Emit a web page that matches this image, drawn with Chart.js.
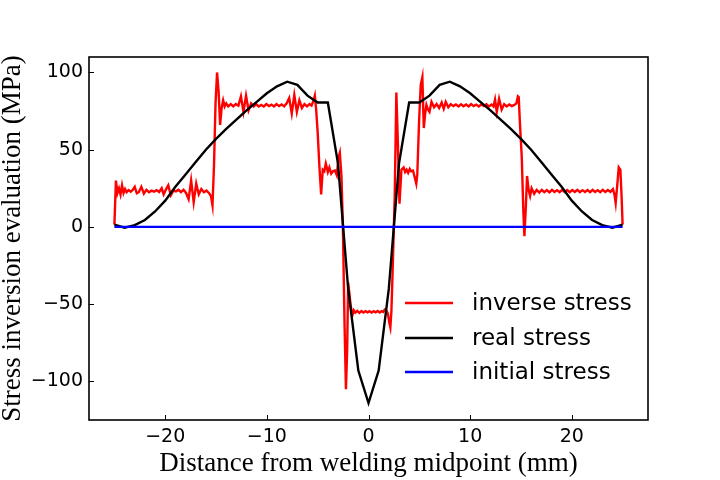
<!DOCTYPE html>
<html>
<head>
<meta charset="utf-8">
<script src="https://cdn.jsdelivr.net/npm/chart.js@4.4.0/dist/chart.umd.min.js"></script>
<style>
  body { margin: 0; background: #fff; }
</style>
</head>
<body>
<canvas id="stressChart" width="720" height="480"></canvas>
<script>
// tick labels
var xTicks = [-20, -10, 0, 10, 20];
var yTicks = [-100, -50, 0, 50, 100];

// real stress, one point per mm
var realX = [-25, -24, -23, -22, -21, -20, -19, -18, -17, -16,
  -15, -14, -13, -12, -11, -10, -9, -8, -7, -6,
  -5, -4, -3, -2, -1, 0, 1, 2, 3, 4,
  5, 6, 7, 8, 9, 10, 11, 12, 13, 14,
  15, 16, 17, 18, 19, 20, 21, 22, 23, 24, 25];
var realY = [1.5, -0.5, 1.2, 4.5, 10, 17, 26, 34, 42, 50,
  57, 63.5, 69.5, 75.5, 81, 86.5, 91, 94, 92, 85,
  80.5, 80.5, 41, -40, -93, -114, -93, -40, 41, 80.5,
  80.5, 85, 92, 94, 91, 86.5, 81, 75.5, 69.5, 63.5,
  57, 50, 42, 34, 26, 17, 10, 4.5, 1.2, -0.5, 1.5];

// initial stress
var initialX = [-25, 25];
var initialY = [0, 0];

// inverse stress
var inverseX = [-25.0, -24.85, -24.7, -24.55, -24.4, -24.25, -24.1, -23.95, -23.8, -23.6,
  -23.4, -23.2, -23.0, -22.8, -22.6, -22.35, -22.1, -21.85, -21.6, -21.35,
  -21.1, -20.85, -20.6, -20.35, -20.15, -19.95, -19.7, -19.45, -19.2, -18.95,
  -18.7, -18.45, -18.2, -17.95, -17.7, -17.45, -17.2, -16.95, -16.7, -16.45,
  -16.2, -15.95, -15.7, -15.5, -15.35, -15.2, -15.05, -14.9, -14.75, -14.6,
  -14.45, -14.3, -14.15, -14.0, -13.8, -13.55, -13.3, -13.05, -12.8, -12.55,
  -12.3, -12.05, -11.8, -11.55, -11.3, -11.05, -10.8, -10.55, -10.3, -10.05,
  -9.8, -9.55, -9.3, -9.05, -8.8, -8.55, -8.3, -8.05, -7.8, -7.55,
  -7.3, -7.05, -6.8, -6.55, -6.3, -6.05, -5.8, -5.6, -5.4, -5.28,
  -5.15, -5.0, -4.83, -4.66, -4.5, -4.35, -4.2, -4.0, -3.85, -3.67,
  -3.5, -3.3, -3.12, -2.95, -2.82, -2.66, -2.52, -2.36, -2.22, -2.1,
  -2.0, -1.9, -1.77, -1.6, -1.45, -1.3, -1.1, -0.9, -0.7, -0.5,
  -0.3, -0.1, 0.1, 0.3, 0.5, 0.7, 0.9, 1.1, 1.3, 1.45,
  1.6, 1.75, 1.9, 2.05, 2.15, 2.25, 2.35, 2.58, 2.74, 2.9,
  3.05, 3.24, 3.46, 3.6, 3.75, 3.9, 4.06, 4.2, 4.38, 4.55,
  4.7, 4.8, 4.98, 5.14, 5.3, 5.44, 5.57, 5.7, 5.85, 6.0,
  6.2, 6.45, 6.7, 6.95, 7.2, 7.4, 7.6, 7.85, 8.1, 8.35,
  8.6, 8.85, 9.1, 9.35, 9.6, 9.85, 10.1, 10.35, 10.6, 10.85,
  11.1, 11.35, 11.6, 11.85, 12.1, 12.3, 12.45, 12.62, 12.85, 13.1,
  13.35, 13.6, 13.85, 14.1, 14.35, 14.55, 14.7, 14.78, 14.9, 15.08,
  15.24, 15.34, 15.48, 15.6, 15.75, 15.9, 16.05, 16.3, 16.55, 16.8,
  17.05, 17.3, 17.55, 17.8, 18.05, 18.3, 18.55, 18.8, 19.05, 19.3,
  19.55, 19.8, 20.05, 20.3, 20.55, 20.8, 21.05, 21.3, 21.55, 21.8,
  22.05, 22.3, 22.55, 22.8, 23.05, 23.3, 23.55, 23.8, 24.05, 24.2,
  24.32, 24.46, 24.62, 24.78, 24.9, 25.0];
var inverseY = [1.5, 30, 22, 25, 21, 27, 22, 24.5, 22.5, 23.8,
  22.8, 24, 26, 21.8, 22.5, 26, 21.5, 24, 22.5, 23.5,
  22.8, 23.8, 22.6, 25, 21, 24, 27, 20.5, 23.5, 23,
  24, 22.5, 24, 22, 18, 30, 16, 28, 21, 24.5,
  22.5, 23.5, 22, 20, 14, 40, 80, 100, 88, 66,
  77, 82, 78, 80, 78, 79.5, 78, 79.5, 78.5, 84.5,
  74.5, 85, 75.5, 80, 78, 79.5, 78, 79, 78, 79.5,
  78.3, 79.2, 78, 79.5, 78.2, 79.3, 78, 80, 83.5, 73.5,
  85.5, 74.5, 82, 77, 79.5, 78, 79.5, 78.5, 82, 85,
  76, 61, 39, 21, 37, 36, 41, 35.5, 38.5, 34.5,
  36, 36.5, 33.5, 45, 48, 33, 0, -62, -105, -80,
  -36, -42, -50, -57.5, -54, -55.5, -54.3, -55.6, -54.5, -55.4,
  -54.6, -55.3, -54.5, -55.5, -54.6, -55.3, -54.4, -55.4, -54.5, -55,
  -53.5, -54, -56, -62, -65, -55, -34, 20, 87, 52,
  15, 37, 38.5, 35.5, 37, 35, 37.5, 36, 36.5, 32,
  28, 34, 69, 92, 97, 64, 73, 79, 76, 74.5,
  81, 77.5, 79.5, 77, 80.5, 76.5, 81, 77.5, 79.5, 78.2,
  79.3, 78, 79.4, 78.1, 79.2, 78, 79.5, 78.2, 79.2, 78,
  79.3, 78.3, 79.4, 78, 79.2, 78, 82.5, 74.5, 83, 76,
  79.5, 78, 79.3, 78.2, 79, 80, 84.5, 84, 67, 45,
  9, -6, 13, 33, 24, 20, 25, 21.5, 24, 22.3,
  24, 22.5, 23.8, 22.4, 24, 22.6, 23.8, 22.5, 24, 22.6,
  23.9, 22.5, 23.9, 22.6, 24, 22.5, 23.8, 22.6, 23.9, 22.5,
  24, 22.6, 23.8, 22.5, 24, 22.6, 23.9, 22.7, 24.5, 21,
  15.5, 26, 38.5, 37, 20, 1.5];

function toPoints(xs, ys) {
  return xs.map(function(x, i) { return {x: x, y: ys[i]}; });
}

function minusLabel(v) {
  return v < 0 ? '\u2212' + Math.abs(v) : String(v);
}

// box round the plot and inward tick marks
var framePlugin = {
  id: 'frame',
  afterDraw: function(chart) {
    var ctx = chart.ctx;
    var a = chart.chartArea;
    var xs = chart.scales.x;
    var ys = chart.scales.y;
    ctx.save();
    ctx.strokeStyle = '#000';
    ctx.lineWidth = 1;
    ctx.beginPath();
    xTicks.forEach(function(v) {
      var px = Math.round(xs.getPixelForValue(v)) + 0.5;
      ctx.moveTo(px, a.bottom);
      ctx.lineTo(px, a.bottom - 5);
    });
    yTicks.forEach(function(v) {
      var py = Math.round(ys.getPixelForValue(v)) + 0.5;
      ctx.moveTo(a.left, py);
      ctx.lineTo(a.left + 5, py);
    });
    ctx.stroke();
    ctx.lineWidth = 1.6;
    ctx.strokeRect(a.left, a.top, a.right - a.left, a.bottom - a.top);
    ctx.restore();
  }
};

// legend in the lower right of the plot
var legendPlugin = {
  id: 'insideLegend',
  afterDraw: function(chart) {
    var ctx = chart.ctx;
    var rows = [303, 338, 372];
    ctx.save();
    ctx.font = '23px "DejaVu Sans"';
    ctx.textBaseline = 'middle';
    ctx.textAlign = 'left';
    chart.data.datasets.forEach(function(ds, i) {
      ctx.strokeStyle = ds.borderColor;
      ctx.lineWidth = 2.4;
      ctx.beginPath();
      ctx.moveTo(405, rows[i]);
      ctx.lineTo(453, rows[i]);
      ctx.stroke();
      ctx.fillStyle = '#000';
      ctx.fillText(ds.label, 472, rows[i] + 1);
    });
    ctx.restore();
  }
};

var ctx = document.getElementById('stressChart');
var stressChart = new Chart(ctx, {
  type: 'scatter',
  data: {
    datasets: [
      {
        label: 'inverse stress',
        data: toPoints(inverseX, inverseY),
        borderColor: '#ff0000',
        order: 2
      },
      {
        label: 'real stress',
        data: toPoints(realX, realY),
        borderColor: '#000000',
        order: 1
      },
      {
        label: 'initial stress',
        data: toPoints(initialX, initialY),
        borderColor: '#0000ff',
        order: 0
      }
    ]
  },
  options: {
    responsive: false,
    animation: false,
    showLine: true,
    elements: {
      point: { radius: 0, hoverRadius: 0 },
      line: { borderWidth: 2.4, tension: 0, fill: false }
    },
    layout: { padding: { top: 57, right: 72, left: 0, bottom: 0 } },
    plugins: {
      legend: { display: false },
      tooltip: { enabled: false }
    },
    scales: {
      x: {
        type: 'linear',
        min: -27.5,
        max: 27.5,
        grid: { display: false, drawTicks: false },
        border: { display: false },
        afterBuildTicks: function(scale) {
          scale.ticks = xTicks.map(function(v) { return {value: v}; });
        },
        afterFit: function(scale) { scale.height = 60; },
        ticks: {
          padding: 6,
          color: '#000',
          maxRotation: 0,
          font: { family: 'DejaVu Sans', size: 19 },
          callback: minusLabel
        },
        title: {
          display: true,
          text: 'Distance from welding midpoint (mm)',
          color: '#000',
          font: { family: 'Liberation Serif', size: 27, lineHeight: 1 },
          padding: { top: 0, bottom: 3 }
        }
      },
      y: {
        type: 'linear',
        min: -125,
        max: 110,
        grid: { display: false, drawTicks: false },
        border: { display: false },
        afterBuildTicks: function(scale) {
          scale.ticks = yTicks.map(function(v) { return {value: v}; });
        },
        afterFit: function(scale) { scale.width = 89; },
        ticks: {
          padding: 6,
          color: '#000',
          font: { family: 'DejaVu Sans', size: 19 },
          callback: minusLabel
        },
        title: {
          display: true,
          text: 'Stress inversion evaluation (MPa)',
          color: '#000',
          font: { family: 'Liberation Serif', size: 27, lineHeight: 1 },
          padding: { top: -1, bottom: 0 }
        }
      }
    }
  },
  plugins: [framePlugin, legendPlugin]
});
</script>
</body>
</html>
